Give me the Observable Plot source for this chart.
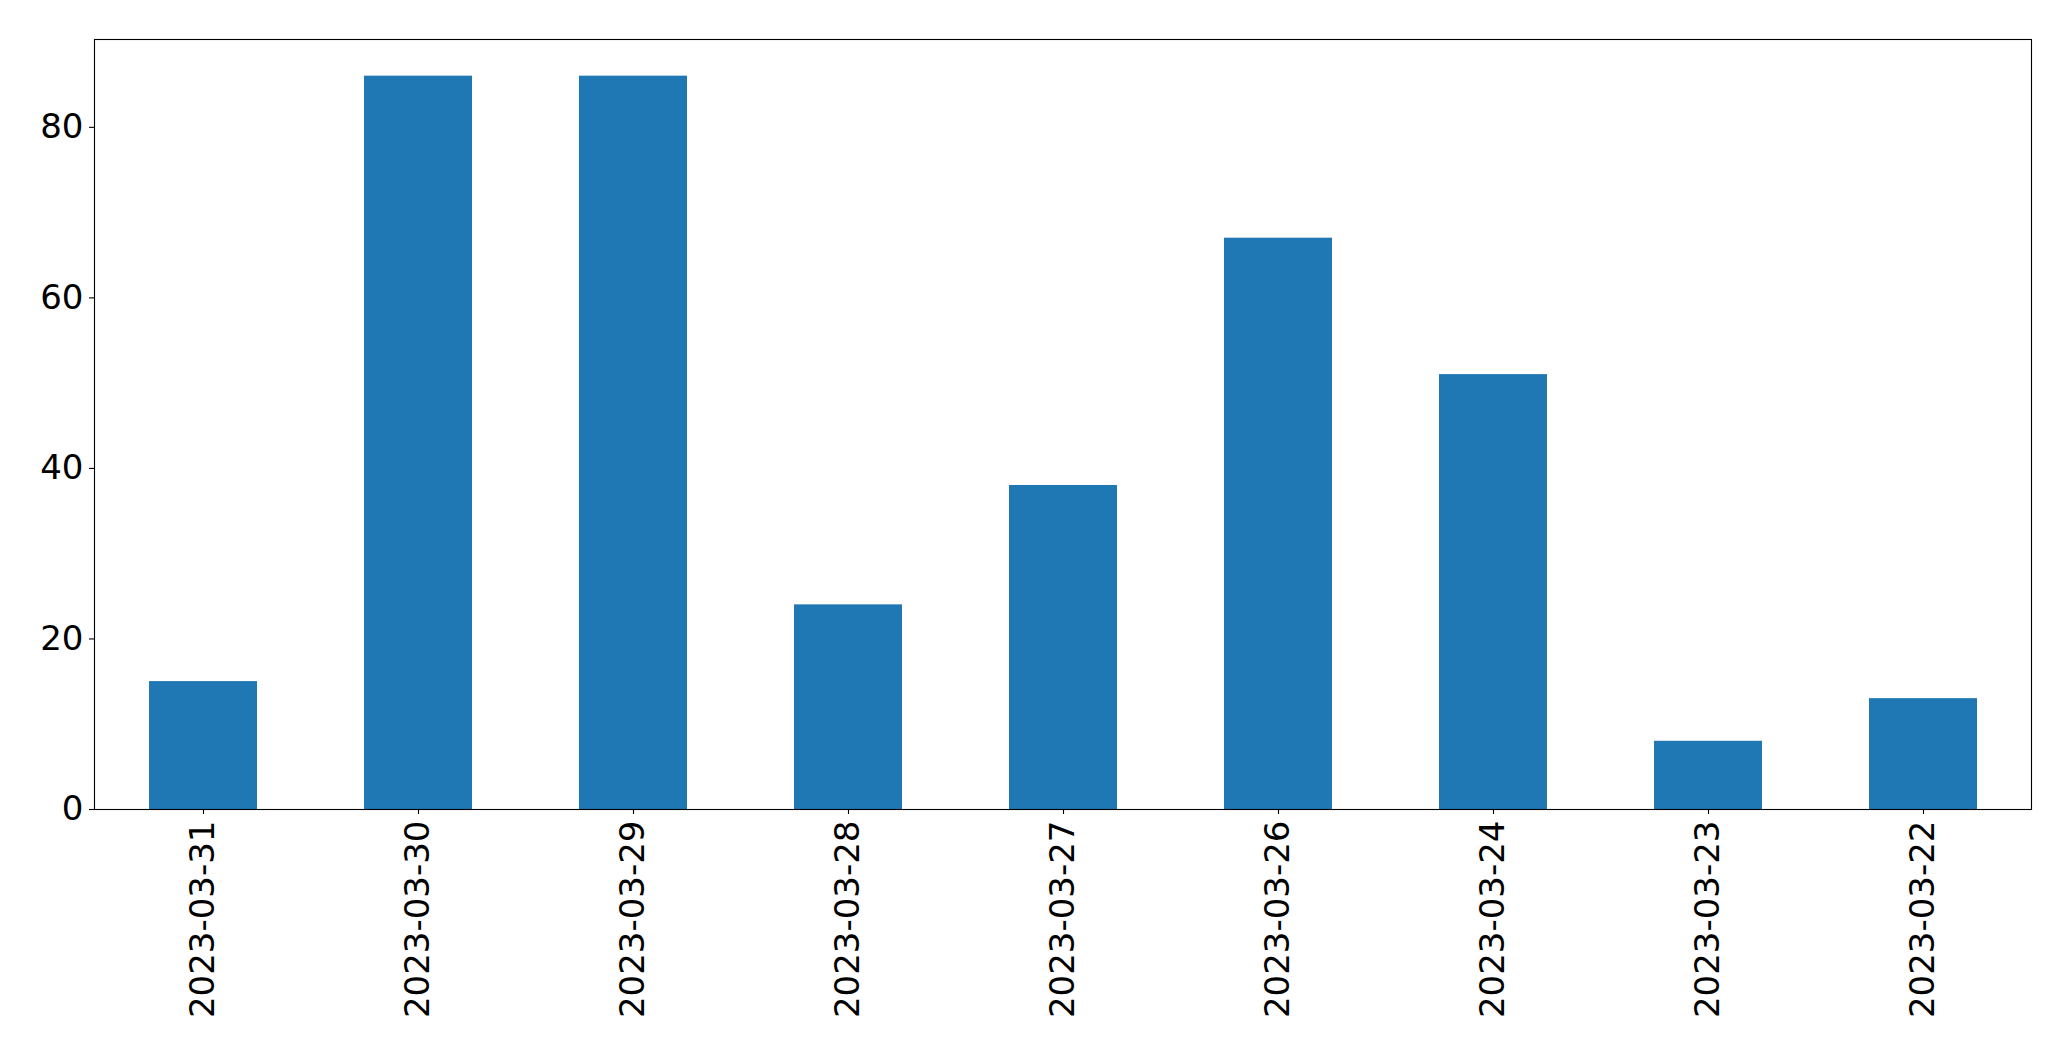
<!DOCTYPE html>
<html>
<head>
<meta charset="utf-8">
<script src="https://cdn.jsdelivr.net/npm/d3@7"></script>
<script src="https://cdn.jsdelivr.net/npm/@observablehq/plot@0.6"></script>
<style>
  html, body { margin: 0; padding: 0; background: #fff; }
  #chart svg { display: block; }
</style>
</head>
<body>
<div id="chart"></div>
<script>
const dates = ["2023-03-31","2023-03-30","2023-03-29","2023-03-28","2023-03-27","2023-03-26","2023-03-24","2023-03-23","2023-03-22"];
const counts = [15, 86, 86, 24, 38, 67, 51, 8, 13];
const yTicks = [0, 20, 40, 60, 80];

const data = dates.map((d, i) => ({date: d, count: counts[i]}));

const chart = Plot.plot({
  width: 2071,
  height: 1061,
  marginLeft: 94,
  marginRight: 40,
  marginTop: 39,
  marginBottom: 252,
  style: {fontFamily: "DejaVu Sans", fontSize: "34px", color: "#000", background: "#fff"},
  x: {type: "band", domain: dates, paddingInner: 0.5, paddingOuter: 0.25, label: null},
  y: {domain: [0, 90.3], label: null},
  marks: [
    Plot.barY(data, {x: "date", y: "count", fill: "#1f77b4"}),
    Plot.axisY({ticks: yTicks, tickSize: 5, tickPadding: 6, fontSize: 34, stroke: "#000", strokeWidth: 1.1, label: null}),
    Plot.axisX({tickSize: 5, tickPadding: 6, tickRotate: -90, fontSize: 34, stroke: "#000", strokeWidth: 1.1, label: null}),
    Plot.frame({stroke: "#000", strokeWidth: 1.1})
  ]
});
document.getElementById("chart").appendChild(chart);
</script>
</body>
</html>
